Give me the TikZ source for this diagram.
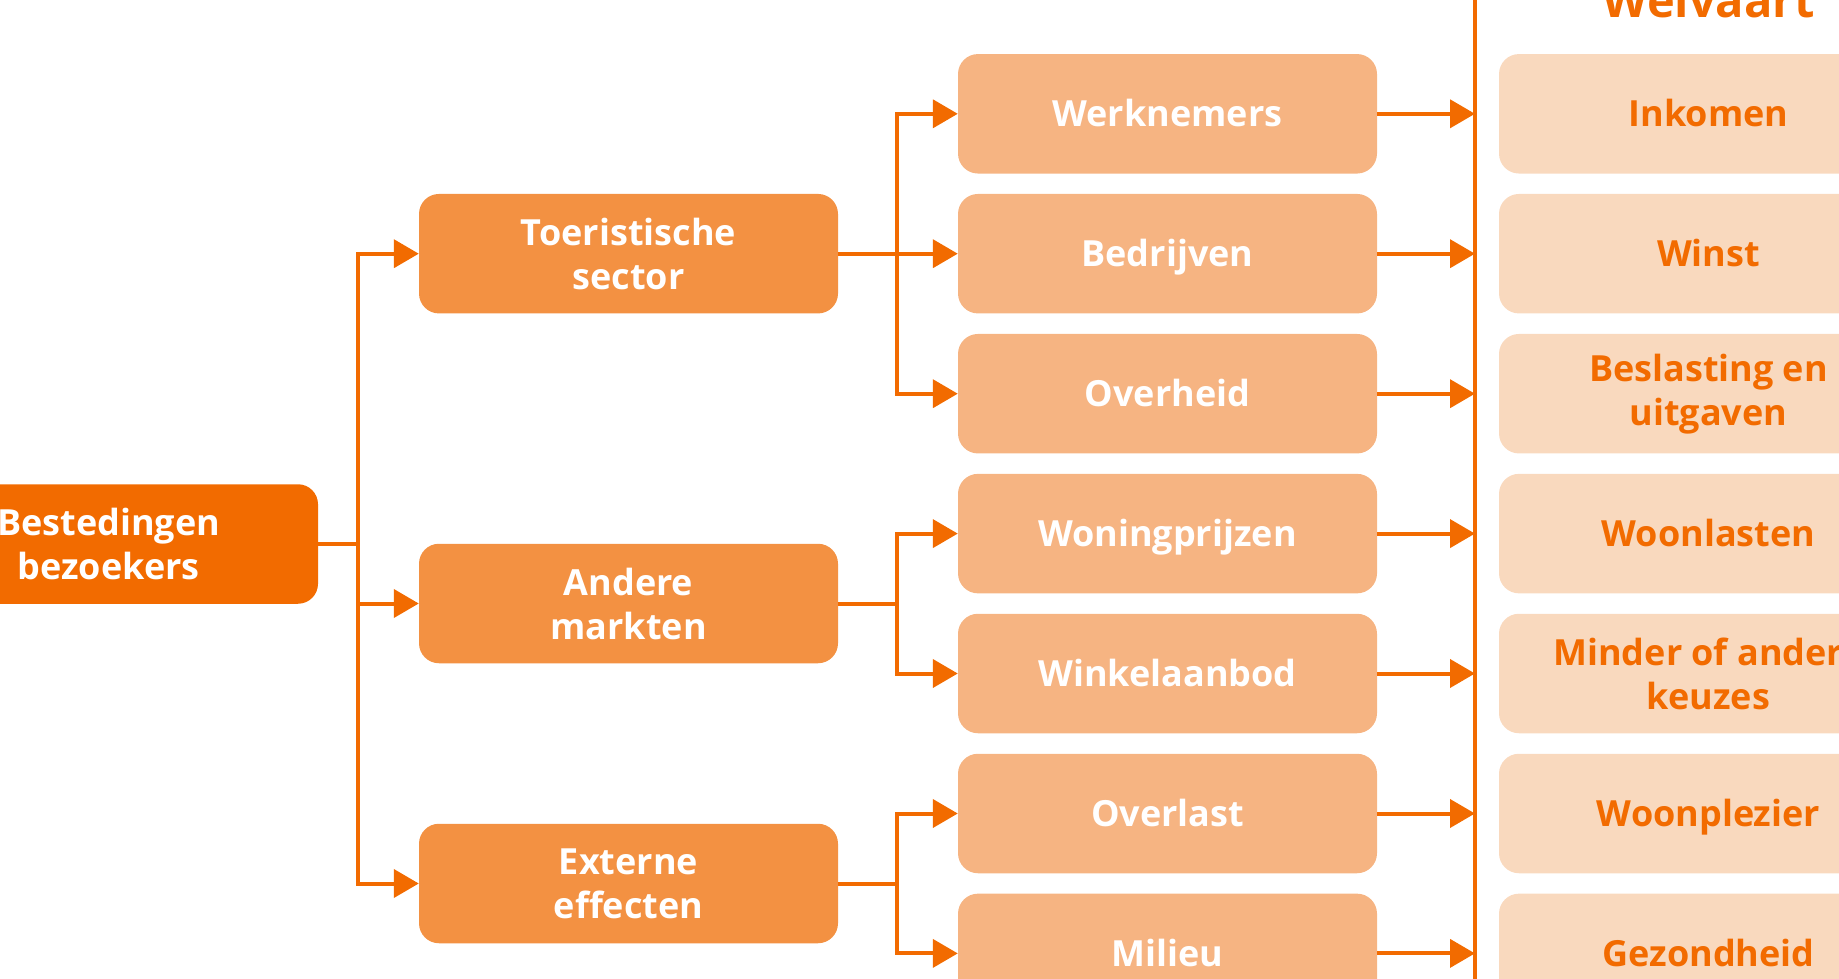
\documentclass[tikz,border=0pt]{standalone}
\usepackage{fontspec}
\setmainfont{Open Sans}
\usetikzlibrary{arrows.meta}

\definecolor{oranje}{HTML}{F26B00}
\definecolor{middenoranje}{HTML}{F39142}
\definecolor{lichtoranje}{HTML}{F6B482}
\definecolor{bleekoranje}{HTML}{F9D9BE}

\begin{document}
\begin{tikzpicture}[x=1pt,y=-1pt,
    vak/.style={rectangle, rounded corners=20pt, minimum width=419pt, minimum height=119.5pt,
        inner sep=0pt, align=center, font=\fontsize{36}{44}\selectfont\bfseries},
    regel/.style={text height=26pt, text depth=0pt},
    bron/.style={vak, fill=oranje, text=white},
    sector/.style={vak, fill=middenoranje, text=white},
    effect/.style={vak, regel, fill=lichtoranje, text=white},
    welvaart/.style={vak, fill=bleekoranje, text=oranje},
    lijn/.style={draw=oranje, line width=4pt},
    pijl/.style={lijn, -{Triangle[length=25pt,width=28pt]}}]
        \useasboundingbox (0,0) rectangle (1839,979);
        \clip (0,0) rectangle (1839,979);
        % kolommen
        \node[bron] (best) at (108.5,544) {Bestedingen\\bezoekers};
        \node[sector] (toer) at (628.5,253.7) {Toeristische\\sector};
        \node[sector] (ander) at (628.5,603.5) {Andere\\markten};
        \node[sector] (extern) at (628.5,883.5) {Externe\\effecten};
        \node[effect] (werk) at (1167.5,113.8) {Werknemers};
        \node[effect] (bedr) at (1167.5,253.7) {Bedrijven};
        \node[effect] (overh) at (1167.5,393.7) {Overheid};
        \node[effect] (woning) at (1167.5,533.6) {Woningprijzen};
        \node[effect] (winkel) at (1167.5,673.5) {Winkelaanbod};
        \node[effect] (overl) at (1167.5,813.5) {Overlast};
        \node[effect] (milieu) at (1167.5,953.4) {Milieu};
        \node[welvaart, regel] (inkomen) at (1708.5,113.8) {Inkomen};
        \node[welvaart, regel] (winst) at (1708.5,253.7) {Winst};
        \node[welvaart] (belast) at (1708.5,393.7) {Beslasting en\\uitgaven};
        \node[welvaart, regel] (woonl) at (1708.5,533.6) {Woonlasten};
        \node[welvaart] (keuzes) at (1708.5,673.5) {Minder of andere\\keuzes};
        \node[welvaart, regel] (woonpl) at (1708.5,813.5) {Woonplezier};
        \node[welvaart, regel] (gezond) at (1708.5,953.4) {Gezondheid};
        \node[anchor=base, text=oranje, font=\fontsize{47}{50}\selectfont\bfseries] (titel) at (1708.5,18) {Welvaart};
        % scheidingslijn
        \coordinate (wtop) at (1475,-10);
        \coordinate (wbot) at (1475,1000);
        \draw[lijn] (wtop) -- (wbot);
        % verbindingen
        \foreach \n in {toer,ander,extern}
            \draw[pijl] (best.east) -- ++(40,0) |- (\n.west);
        \foreach \n in {werk,bedr,overh}
            \draw[pijl] (toer.east) -- ++(59,0) |- (\n.west);
        \foreach \n in {woning,winkel}
            \draw[pijl] (ander.east) -- ++(59,0) |- (\n.west);
        \foreach \n in {overl,milieu}
            \draw[pijl] (extern.east) -- ++(59,0) |- (\n.west);
        \foreach \n in {werk,bedr,overh,woning,winkel,overl,milieu}
            \draw[pijl] (\n.east) -- (\n.east -| wtop);
    \end{tikzpicture}
\end{document}
